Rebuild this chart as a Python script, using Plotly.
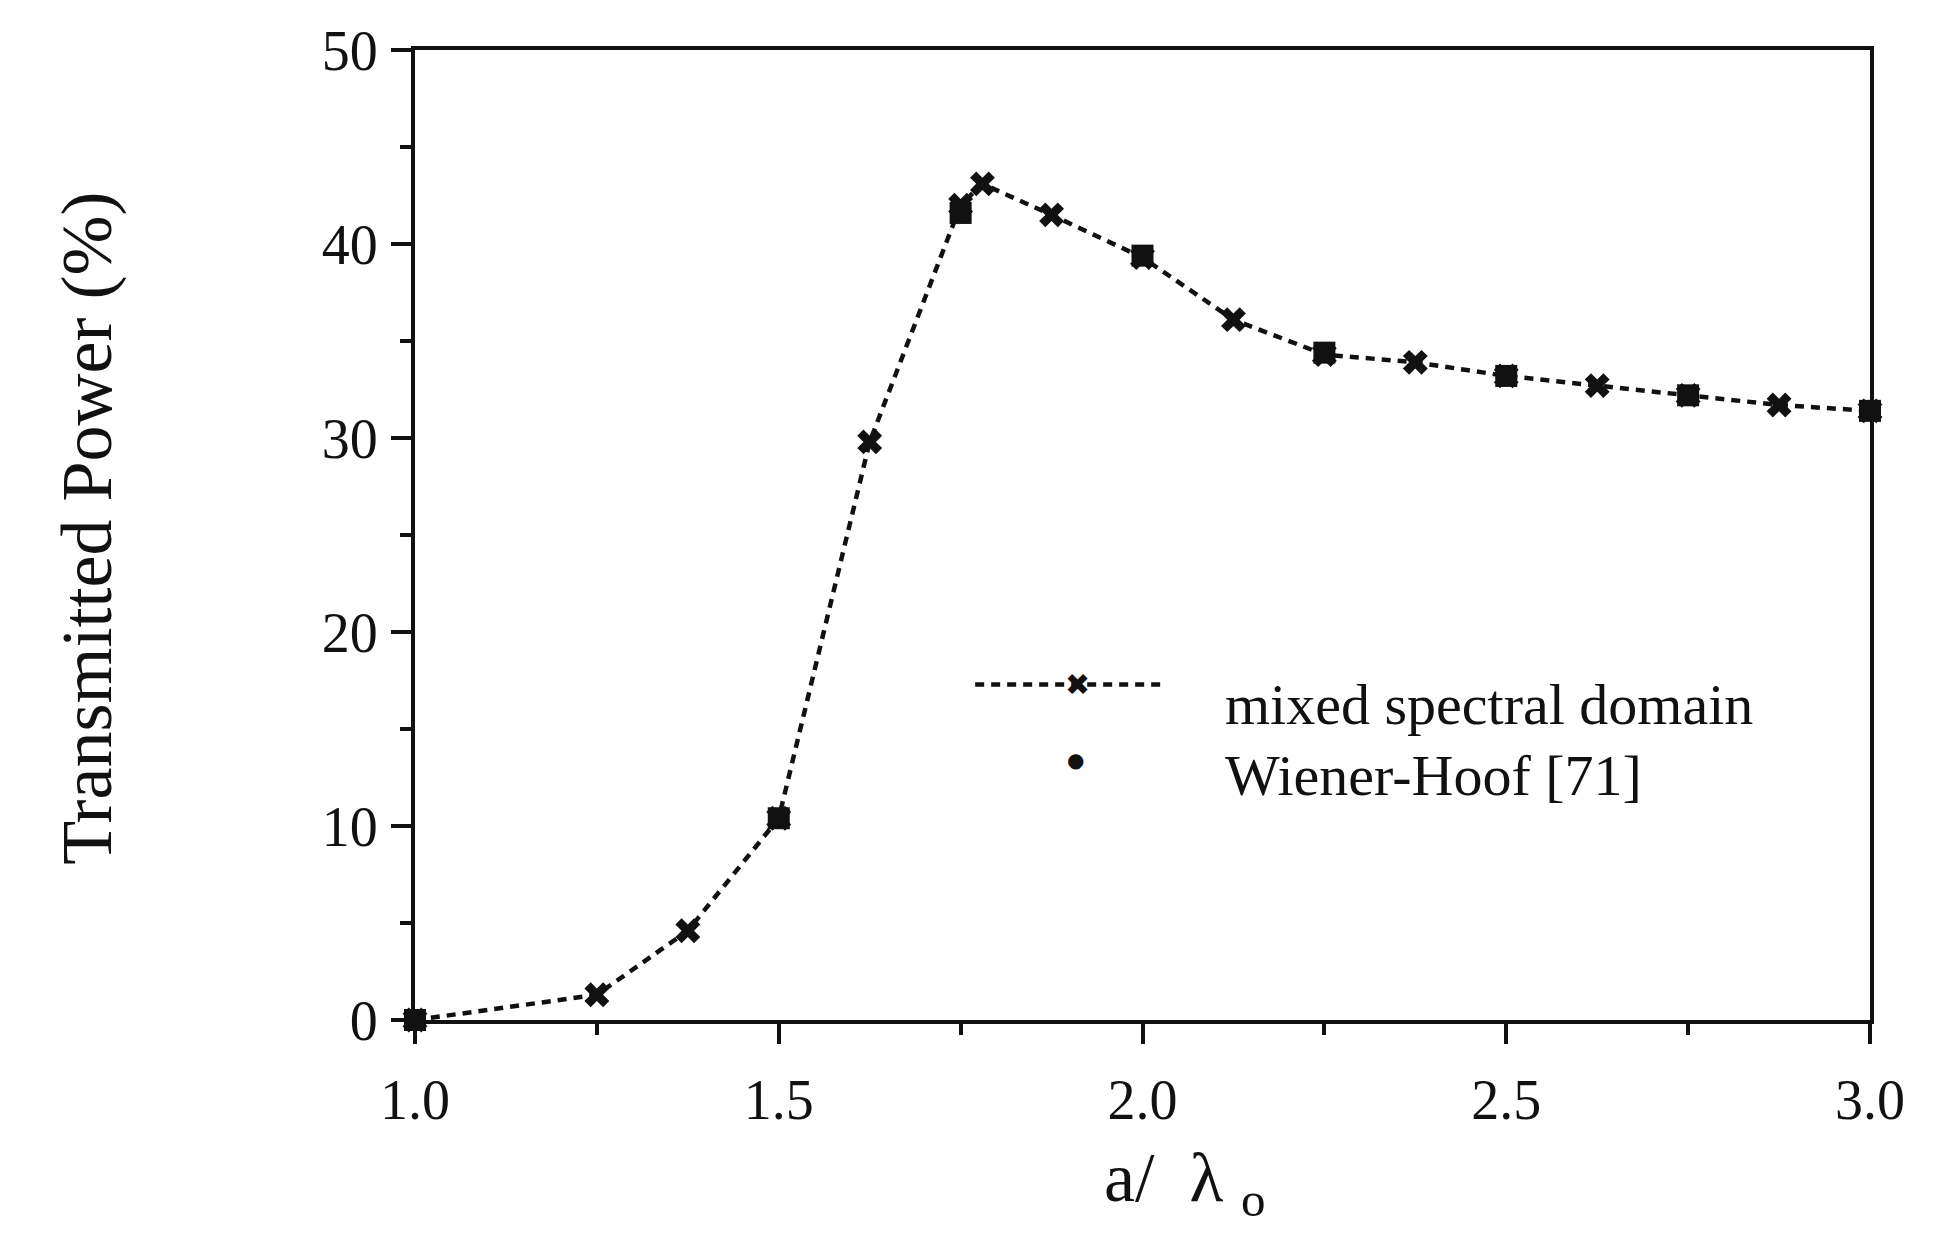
import plotly.graph_objects as go

# Transmitted power versus normalised aperture a/lambda_0
mixed_x = [1.0, 1.25, 1.375, 1.5, 1.625, 1.75, 1.78, 1.875, 2.0, 2.125,
           2.25, 2.375, 2.5, 2.625, 2.75, 2.875, 3.0]
mixed_y = [0.0, 1.3, 4.6, 10.4, 29.8, 42.0, 43.1, 41.5, 39.3, 36.1,
           34.3, 33.9, 33.2, 32.7, 32.2, 31.7, 31.4]

wh_x = [1.0, 1.5, 1.75, 2.0, 2.25, 2.5, 2.75, 3.0]
wh_y = [0.0, 10.4, 41.6, 39.4, 34.4, 33.2, 32.2, 31.4]

x_ticks = [1.0, 1.5, 2.0, 2.5, 3.0]
x_tick_text = ["1.0", "1.5", "2.0", "2.5", "3.0"]
y_ticks = [0, 10, 20, 30, 40, 50]

label_mixed = "mixed spectral domain"
label_wh = "Wiener-Hoof [71]"
x_title = "a/  λ <sub>o</sub>"
y_title = "Transmitted Power (%)"

FONT = "Liberation Serif, Times New Roman, serif"
INK = "#111111"

fig = go.Figure()

fig.add_trace(go.Scatter(
    x=mixed_x, y=mixed_y, mode="lines+markers", name=label_mixed,
    line=dict(color=INK, width=4.5, dash="9px,7px"),
    marker=dict(symbol="x", size=22, color=INK),
    cliponaxis=False, showlegend=False,
))
fig.add_trace(go.Scatter(
    x=wh_x, y=wh_y, mode="markers", name=label_wh,
    marker=dict(symbol="square", size=22, color=INK),
    cliponaxis=False, showlegend=False,
))

axis_common = dict(
    showgrid=False, zeroline=False, showline=True, linewidth=4,
    linecolor=INK, mirror=True, ticks="outside", tickwidth=4,
    tickcolor=INK, ticklen=20,
    tickfont=dict(family=FONT, size=56, color=INK),
)

fig.update_xaxes(
    range=[1.0, 3.0], tickvals=x_ticks, ticktext=x_tick_text,
    ticklabelstandoff=8,
    minor=dict(dtick=0.25, ticks="outside", ticklen=11, tickwidth=4,
               tickcolor=INK, showgrid=False),
    **axis_common,
)
fig.update_yaxes(
    range=[0, 50], tickvals=y_ticks, ticklabelstandoff=2,
    minor=dict(dtick=5, ticks="outside", ticklen=11, tickwidth=4,
               tickcolor=INK, showgrid=False),
    **axis_common,
)

# Hand-drawn legend inside the plot area
legend_shapes = [
    dict(type="line", xref="paper", yref="paper",
         x0=0.385, x1=0.516, y0=0.346, y1=0.346,
         line=dict(color=INK, width=4.5, dash="9px,7px")),
]
legend_notes = [
    dict(x=0.455, y=0.346, xref="paper", yref="paper", text="✖",
         showarrow=False, font=dict(family="DejaVu Sans", size=30, color=INK),
         xanchor="center", yanchor="middle"),
    dict(x=0.454, y=0.268, xref="paper", yref="paper", text="●",
         showarrow=False, font=dict(family="DejaVu Sans", size=20, color=INK),
         xanchor="center", yanchor="middle"),
    dict(x=0.555, y=0.325, xref="paper", yref="paper", text=label_mixed,
         showarrow=False, font=dict(family=FONT, size=58, color=INK),
         xanchor="left", yanchor="middle"),
    dict(x=0.555, y=0.252, xref="paper", yref="paper", text=label_wh,
         showarrow=False, font=dict(family=FONT, size=58, color=INK),
         xanchor="left", yanchor="middle"),
    # axis titles
    dict(x=0.529, y=-0.168, xref="paper", yref="paper", text=x_title,
         showarrow=False, font=dict(family=FONT, size=70, color=INK),
         xanchor="center", yanchor="middle"),
    dict(x=-0.225, y=0.507, xref="paper", yref="paper", text=y_title,
         showarrow=False, textangle=-90,
         font=dict(family=FONT, size=72, color=INK),
         xanchor="center", yanchor="middle"),
]

fig.update_layout(
    width=1935, height=1243,
    margin=dict(l=415, r=65, t=50, b=223),
    paper_bgcolor="white", plot_bgcolor="white",
    showlegend=False,
    shapes=legend_shapes,
    annotations=legend_notes,
)

fig.write_html("out.html")
